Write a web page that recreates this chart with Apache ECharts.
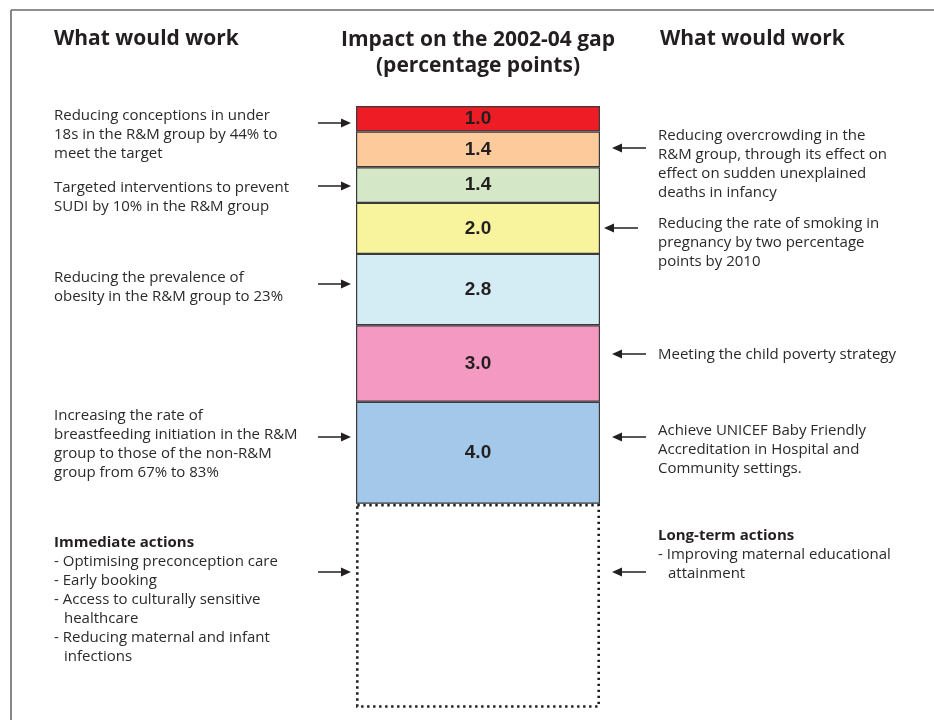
<!DOCTYPE html>
<html><head><meta charset="utf-8">
<script src="https://cdn.jsdelivr.net/npm/echarts@6/dist/echarts.min.js"></script>
<style>html,body{margin:0;padding:0;background:#fff}#c{width:934px;height:720px}</style>
</head><body><div id="c"></div>
<script>
// ---- data ----
const categories = ['Impact on the 2002-04 gap'];
const segmentNames = ['Teenage conceptions', 'Overcrowding', 'SUDI interventions', 'Smoking in pregnancy', 'Obesity', 'Child poverty', 'Breastfeeding'];
const segmentValues = [1.0, 1.4, 1.4, 2.0, 2.8, 3.0, 4.0];
const actionsBoxValue = [8.0]; // unquantified immediate / long-term actions (dotted box)

const leftNotes = [
  ['Reducing conceptions in under', '18s in the R&M group by 44% to', 'meet the target'],
  ['Targeted interventions to prevent', 'SUDI by 10% in the R&M group'],
  ['Reducing the prevalence of', 'obesity in the R&M group to 23%'],
  ['Increasing the rate of', 'breastfeeding initiation in the R&M', 'group to those of the non-R&M', 'group from 67% to 83%']
];
const rightNotes = [
  ['Reducing overcrowding in the', 'R&M group, through its effect on', 'effect on sudden unexplained', 'deaths in infancy'],
  ['Reducing the rate of smoking in', 'pregnancy by two percentage', 'points by 2010'],
  ['Meeting the child poverty strategy'],
  ['Achieve UNICEF Baby Friendly', 'Accreditation in Hospital and', 'Community settings.']
];
const immediateTitle = 'Immediate actions';
const immediateItems = [['Optimising preconception care'], ['Early booking'], ['Access to culturally sensitive', 'healthcare'], ['Reducing maternal and infant', 'infections']];
const longTermTitle = 'Long-term actions';
const longTermItems = [['Improving maternal educational', 'attainment']];
const headingSide = 'What would work';
const headingCentre = ['Impact on the 2002-04 gap', '(percentage points)'];

// ---- styles / layout ----
const segmentColors = ['#ee1d25', '#fdca9b', '#d4e7c6', '#f8f39d', '#d4edf4', '#f49ac2', '#a3c8ea'];
const TXT = '#2a2a2a';
const FONT = '"Open Sans", "Noto Sans", sans-serif';
const LH = 18.9;
const leftNoteY = [116, 188, 278, 416];
const rightNoteY = [136, 224, 355, 431];
const leftArrowY = [123, 186, 284, 437, 572];
const rightArrowY = [148, 228, 354, 437, 572];
const rightArrowShift = [0, -8, 0, 0, 0];

const series = segmentValues.map((v, i) => ({
  name: segmentNames[i],
  type: 'bar',
  stack: 'gap',
  barWidth: '100%',
  data: [v],
  itemStyle: { color: segmentColors[i], borderColor: '#3a3a3a', borderWidth: 1.2 },
  label: {
    show: true, position: 'inside',
    formatter: p => p.value.toFixed(1),
    fontFamily: '"Liberation Sans", Arial, sans-serif',
    fontWeight: 'bold', fontSize: 19, color: '#231f20'
  },
  silent: true
}));
series.push({
  name: 'Actions', type: 'bar', stack: 'gap', barWidth: '100%', data: actionsBoxValue,
  itemStyle: { color: '#ffffff', borderColor: '#231f20', borderWidth: 2.6, borderType: [2.4, 3.6] },
  label: { show: false }, silent: true
});

const g = [];
// frame
g.push({ type: 'line', shape: { x1: 11, y1: 10, x2: 934, y2: 10 }, style: { stroke: '#6a6a6a', lineWidth: 1.6 } });
g.push({ type: 'line', shape: { x1: 11, y1: 10, x2: 11, y2: 720 }, style: { stroke: '#6a6a6a', lineWidth: 1.6 } });
// headings
const hFont = 'bold 21px ' + FONT;
g.push({ type: 'text', x: 54, y: 39, style: { text: headingSide, font: hFont, fill: '#231f20', textVerticalAlign: 'middle' } });
g.push({ type: 'text', x: 660, y: 39, style: { text: headingSide, font: hFont, fill: '#231f20', textVerticalAlign: 'middle' } });
headingCentre.forEach((t, i) => g.push({ type: 'text', x: 478, y: 40 + i * 26, style: { text: t, font: hFont, fill: '#231f20', textAlign: 'center', textVerticalAlign: 'middle' } }));

const bFont = '15px ' + FONT;
function addLines(lines, x, y0) {
  lines.forEach((t, i) => g.push({ type: 'text', x: x, y: y0 + i * LH, style: { text: t, font: bFont, fill: TXT, textVerticalAlign: 'middle' } }));
}
leftNotes.forEach((n, i) => addLines(n, 54, leftNoteY[i]));
rightNotes.forEach((n, i) => addLines(n, 658, rightNoteY[i]));

function addList(title, items, x, y0) {
  g.push({ type: 'text', x: x, y: y0, style: { text: title, font: 'bold 15px ' + FONT, fill: '#231f20', textVerticalAlign: 'middle' } });
  let k = 1;
  items.forEach(item => {
    item.forEach((t, j) => {
      g.push({ type: 'text', x: j === 0 ? x : x + 10, y: y0 + k * LH, style: { text: (j === 0 ? '- ' : '') + t, font: bFont, fill: TXT, textVerticalAlign: 'middle' } });
      k++;
    });
  });
}
addList(immediateTitle, immediateItems, 54, 543);
addList(longTermTitle, longTermItems, 658, 536);

// arrows
const aStyle = { stroke: '#231f20', lineWidth: 1.5 };
leftArrowY.forEach(y => {
  g.push({ type: 'line', shape: { x1: 318, y1: y, x2: 344, y2: y }, style: aStyle });
  g.push({ type: 'polygon', shape: { points: [[341, y - 4.5], [351, y], [341, y + 4.5]] }, style: { fill: '#231f20' } });
});
rightArrowY.forEach((y, i) => {
  const s = rightArrowShift[i];
  g.push({ type: 'line', shape: { x1: 646 + s, y1: y, x2: 619 + s, y2: y }, style: aStyle });
  g.push({ type: 'polygon', shape: { points: [[622 + s, y - 4.5], [612 + s, y], [622 + s, y + 4.5]] }, style: { fill: '#231f20' } });
});

const chart = echarts.init(document.getElementById('c'), null, { renderer: 'canvas' });
chart.setOption({
  animation: false,
  backgroundColor: '#ffffff',
  grid: { left: 356, width: 244, top: 106, height: 612 },
  xAxis: { type: 'category', data: categories, show: false },
  yAxis: { type: 'value', inverse: true, min: 0, max: 24, show: false },
  series: series,
  graphic: g
});
</script></body></html>
